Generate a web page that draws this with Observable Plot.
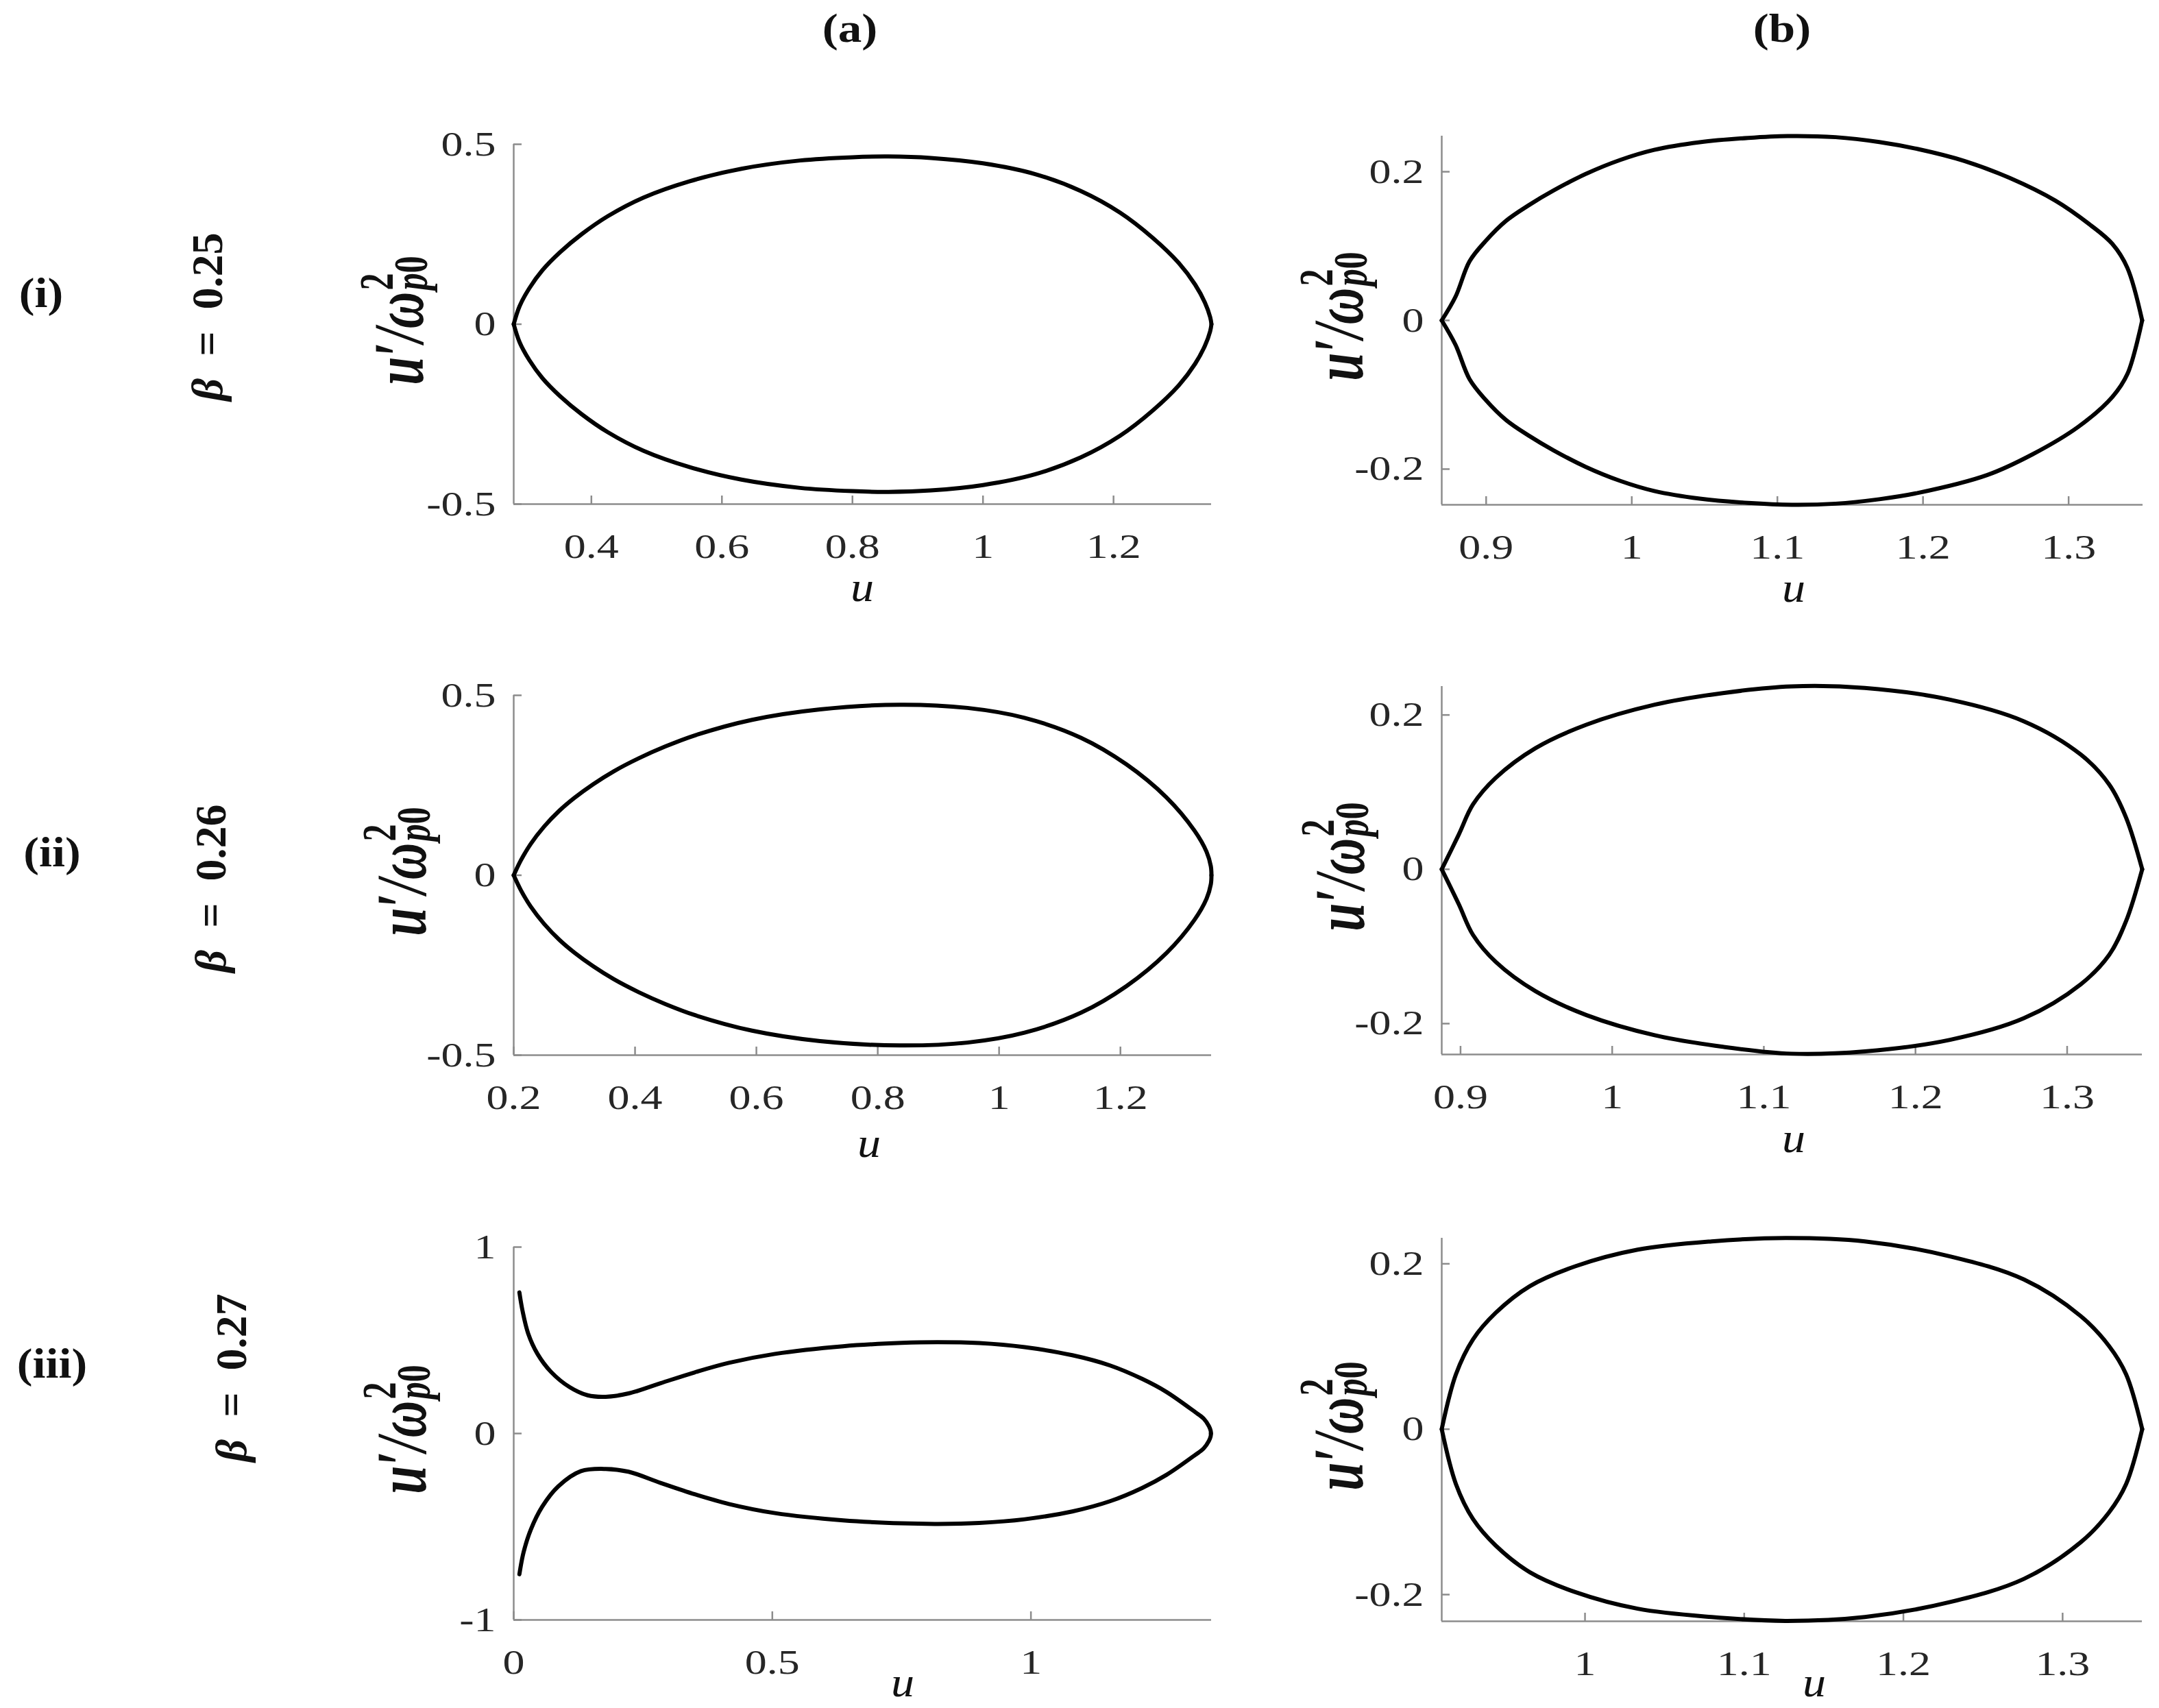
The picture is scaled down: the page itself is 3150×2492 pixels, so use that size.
<!DOCTYPE html>
<html>
<head>
<meta charset="utf-8">
<script src="https://cdn.jsdelivr.net/npm/d3@7"></script>
<script src="https://cdn.jsdelivr.net/npm/@observablehq/plot@0.6"></script>
<style>
  html, body { margin: 0; padding: 0; background: #fff; }
  #root { position: relative; width: 3150px; height: 2492px; background: #fff; overflow: hidden;
          font-family: 'Liberation Serif', 'Times New Roman', serif; color: #111; }
  .lab { position: absolute; white-space: nowrap; line-height: 0.6; }
  .hdr { font-weight: bold; font-size: 60px; }
  .row { font-weight: bold; font-size: 62px; }
  .beta { font-weight: bold; font-size: 64px; }
  .beta i { font-style: italic; }
  .xl { font-style: italic; font-size: 62px; }
  .yl { font-style: italic; font-weight: bold; font-size: 74px; line-height: 1; }
  .ss { display: inline-block; position: relative; width: 0.72em; height: 1em; vertical-align: baseline; }
  .ss .sup, .ss .sub { position: absolute; left: 0.04em; font-size: 0.68em; line-height: 1; }
  .ss .sup { top: 0; font-style: normal; }
  .ss .sub { top: 0.72em; }
  .ss .sub b { font-style: normal; }
</style>
</head>
<body>
<div id="root"></div>
<script>
// ---------------- DATA ----------------
const columnLabels = ["(a)", "(b)"];
const rowLabels = ["(i)", "(ii)", "(iii)"];
const betaValues = ["0.25", "0.26", "0.27"];

// Row (i), beta = 0.25, column (a)
const uA1Upper = [0.281, 0.290, 0.305, 0.325, 0.352, 0.385, 0.425, 0.48, 0.55, 0.63, 0.72, 0.80, 0.855, 0.92, 1.00, 1.08, 1.15, 1.21, 1.26, 1.30, 1.325, 1.34, 1.348, 1.35];
const vA1Upper = [0, 0.05, 0.10, 0.15, 0.20, 0.25, 0.30, 0.352, 0.397, 0.432, 0.455, 0.464, 0.466, 0.462, 0.447, 0.417, 0.37, 0.31, 0.24, 0.17, 0.11, 0.06, 0.02, 0];
const uA1Lower = [0.281, 0.290, 0.305, 0.325, 0.352, 0.385, 0.425, 0.48, 0.55, 0.63, 0.72, 0.80, 0.855, 0.92, 1.00, 1.08, 1.15, 1.21, 1.26, 1.30, 1.325, 1.34, 1.348, 1.35];
const vA1Lower = [0, -0.05, -0.10, -0.15, -0.20, -0.25, -0.30, -0.352, -0.397, -0.432, -0.455, -0.464, -0.466, -0.462, -0.447, -0.417, -0.37, -0.31, -0.24, -0.17, -0.11, -0.06, -0.02, 0];

// Row (i), beta = 0.25, column (b)
const uB1Upper = [0.8695, 0.879, 0.8886, 0.8996, 0.9137, 0.9293, 0.9465, 0.9684, 0.9919, 1.0154, 1.0467, 1.08, 1.107, 1.14, 1.17, 1.1966, 1.2284, 1.2597, 1.291, 1.3145, 1.330, 1.3403, 1.3505];
const vB1Upper = [0, 0.032, 0.0795, 0.1067, 0.134, 0.155, 0.175, 0.197, 0.2157, 0.2294, 0.2397, 0.2455, 0.248, 0.2465, 0.240, 0.2305, 0.2145, 0.1915, 0.161, 0.129, 0.103, 0.0709, 0];
const uB1Lower = [0.8695, 0.879, 0.8886, 0.8996, 0.9137, 0.9293, 0.9465, 0.9684, 0.9919, 1.0154, 1.0467, 1.08, 1.11, 1.14, 1.17, 1.1966, 1.244, 1.2753, 1.3067, 1.330, 1.3405, 1.3505];
const vB1Lower = [0, -0.033, -0.079, -0.1067, -0.134, -0.155, -0.175, -0.197, -0.2157, -0.2294, -0.2397, -0.2455, -0.248, -0.2465, -0.2405, -0.232, -0.208, -0.18, -0.143, -0.103, -0.0715, 0];

// Row (ii), beta = 0.26, column (a)
const uA2Upper = [0.200, 0.212, 0.228, 0.250, 0.275, 0.300, 0.331, 0.365, 0.406, 0.450, 0.499, 0.593, 0.705, 0.836, 0.948, 1.042, 1.135, 1.21, 1.276, 1.322, 1.342, 1.349, 1.35];
const vA2Upper = [0, 0.042, 0.087, 0.135, 0.179, 0.215, 0.253, 0.289, 0.325, 0.358, 0.389, 0.432, 0.461, 0.474, 0.465, 0.4375, 0.382, 0.308, 0.216, 0.124, 0.065, 0.025, 0];
const uA2Lower = [0.200, 0.212, 0.228, 0.250, 0.275, 0.300, 0.331, 0.365, 0.406, 0.450, 0.499, 0.593, 0.705, 0.836, 0.948, 1.042, 1.135, 1.21, 1.276, 1.322, 1.342, 1.349, 1.35];
const vA2Lower = [0, -0.042, -0.087, -0.135, -0.179, -0.215, -0.253, -0.289, -0.325, -0.358, -0.389, -0.432, -0.461, -0.473, -0.465, -0.4375, -0.382, -0.308, -0.216, -0.124, -0.065, -0.025, 0];

// Row (ii), beta = 0.26, column (b)
const uB2Upper = [0.8876, 0.8989, 0.9082, 0.9232, 0.9494, 0.9831, 1.028, 1.073, 1.118, 1.1666, 1.2228, 1.2715, 1.309, 1.3277, 1.3389, 1.3495];
const vB2Upper = [0, 0.0453, 0.084, 0.1185, 0.157, 0.1875, 0.2133, 0.2284, 0.237, 0.235, 0.2198, 0.1918, 0.1487, 0.11, 0.0668, 0];
const uB2Lower = [0.8876, 0.8989, 0.9082, 0.9232, 0.9494, 0.9831, 1.028, 1.073, 1.118, 1.1666, 1.2228, 1.2715, 1.309, 1.3277, 1.3389, 1.3495];
const vB2Lower = [0, -0.0455, -0.085, -0.12, -0.158, -0.189, -0.215, -0.23, -0.239, -0.236, -0.221, -0.193, -0.149, -0.111, -0.067, 0];

// Row (iii), beta = 0.27, column (a)
const uA3Upper = [0.011, 0.017, 0.028, 0.046, 0.072, 0.108, 0.143, 0.178, 0.222, 0.284, 0.350, 0.416, 0.505, 0.637, 0.75, 0.82, 0.90, 0.988, 1.08, 1.153, 1.215, 1.262, 1.317, 1.334, 1.344, 1.3475, 1.348];
const vA3Upper = [0.757, 0.659, 0.536, 0.427, 0.331, 0.249, 0.205, 0.197, 0.215, 0.27, 0.328, 0.379, 0.427, 0.468, 0.486, 0.49, 0.485, 0.463, 0.42, 0.365, 0.293, 0.223, 0.116, 0.08, 0.04, 0.015, 0];
const uA3Lower = [0.011, 0.019, 0.033, 0.055, 0.086, 0.130, 0.178, 0.222, 0.284, 0.350, 0.416, 0.505, 0.637, 0.75, 0.82, 0.90, 0.988, 1.08, 1.153, 1.215, 1.262, 1.317, 1.334, 1.344, 1.3475, 1.348];
const vA3Lower = [-0.755, -0.638, -0.516, -0.393, -0.284, -0.202, -0.19, -0.205, -0.265, -0.326, -0.378, -0.427, -0.466, -0.482, -0.485, -0.48, -0.46, -0.418, -0.363, -0.292, -0.222, -0.116, -0.08, -0.04, -0.015, 0];

// Row (iii), beta = 0.27, column (b)
const uB3Upper = [0.910, 0.9189, 0.9296, 0.9439, 0.9653, 0.9939, 1.0331, 1.0795, 1.1259, 1.1758, 1.2293, 1.2757, 1.3114, 1.3292, 1.3399, 1.35];
const vB3Upper = [0, 0.0663, 0.1085, 0.1407, 0.1729, 0.197, 0.2171, 0.2271, 0.2312, 0.2271, 0.209, 0.181, 0.1367, 0.1005, 0.0663, 0];
const uB3Lower = [0.910, 0.9189, 0.9296, 0.9439, 0.9653, 0.9939, 1.0331, 1.0795, 1.1259, 1.1758, 1.2293, 1.2757, 1.3114, 1.3292, 1.3399, 1.35];
const vB3Lower = [0, -0.0663, -0.1085, -0.1407, -0.1729, -0.197, -0.2171, -0.2271, -0.2318, -0.2271, -0.209, -0.181, -0.1367, -0.1005, -0.0663, 0];

// Tick values
const xTicksA1 = [0.4, 0.6, 0.8, 1, 1.2];
const xTicksA2 = [0.2, 0.4, 0.6, 0.8, 1, 1.2];
const xTicksA3 = [0, 0.5, 1];
const xTicksB1 = [0.9, 1, 1.1, 1.2, 1.3];
const xTicksB2 = [0.9, 1, 1.1, 1.2, 1.3];
const xTicksB3 = [1, 1.1, 1.2, 1.3];
const yTicksA12 = [-0.5, 0, 0.5];
const yTicksA3 = [-1, 0, 1];
const yTicksB = [-0.2, 0, 0.2];

// Axis domains
const xDomA1 = [0.281, 1.35], yDomA1 = [-0.5, 0.5];
const xDomB1 = [0.8695, 1.351], yDomB1 = [-0.248, 0.248];
const xDomA2 = [0.2, 1.35], yDomA2 = [-0.5, 0.5];
const xDomB2 = [0.8876, 1.3495], yDomB2 = [-0.24, 0.237];
const xDomA3 = [0, 1.349], yDomA3 = [-1, 1];
const xDomB3 = [0.910, 1.35], yDomB3 = [-0.2323, 0.231];

// ---------------- BUILD ----------------
const root = document.getElementById("root");
const toPts = (us, vs) => us.map((u, i) => ({u, v: vs[i]}));
const AX = "#8c8c8c";
const ML = 200, MR = 40, MT = 40, MB = 130;

const panels = [
  {frame: {x: 749, y: 210, w: 1018, h: 525}, xDom: xDomA1, yDom: yDomA1, xTicks: xTicksA1, yTicks: yTicksA12, up: toPts(uA1Upper, vA1Upper), lo: toPts(uA1Lower, vA1Lower), ulab: [1258, 864], ylabX: 574},
  {frame: {x: 2103, y: 198, w: 1023, h: 538}, xDom: xDomB1, yDom: yDomB1, xTicks: xTicksB1, yTicks: yTicksB, up: toPts(uB1Upper, vB1Upper), lo: toPts(uB1Lower, vB1Lower), ulab: [2617, 865], ylabX: 1945},
  {frame: {x: 749, y: 1014, w: 1018, h: 525}, xDom: xDomA2, yDom: yDomA2, xTicks: xTicksA2, yTicks: yTicksA12, up: toPts(uA2Upper, vA2Upper), lo: toPts(uA2Lower, vA2Lower), ulab: [1268, 1675], ylabX: 578},
  {frame: {x: 2103, y: 1001, w: 1022, h: 537}, xDom: xDomB2, yDom: yDomB2, xTicks: xTicksB2, yTicks: yTicksB, up: toPts(uB2Upper, vB2Upper), lo: toPts(uB2Lower, vB2Lower), ulab: [2617, 1668], ylabX: 1947},
  {frame: {x: 749, y: 1819, w: 1018, h: 544}, xDom: xDomA3, yDom: yDomA3, xTicks: xTicksA3, yTicks: yTicksA3, up: toPts(uA3Upper, vA3Upper), lo: toPts(uA3Lower, vA3Lower), ulab: [1317, 2462], ylabX: 578},
  {frame: {x: 2103, y: 1806, w: 1022, h: 559}, xDom: xDomB3, yDom: yDomB3, xTicks: xTicksB3, yTicks: yTicksB, up: toPts(uB3Upper, vB3Upper), lo: toPts(uB3Lower, vB3Lower), ulab: [2647, 2462], ylabX: 1945}
];

const fmt = d => String(d);

function addLabel(html, cls, cx, cy, transformExtra) {
  const d = document.createElement("div");
  d.className = cls;
  d.innerHTML = html;
  d.style.left = cx + "px";
  d.style.top = cy + "px";
  d.style.transform = "translate(-50%, -50%)" + (transformExtra ? " " + transformExtra : "");
  root.appendChild(d);
  return d;
}

function stretchTickLabels(svg, k) {
  svg.querySelectorAll('g[aria-label$="tick label"] text').forEach(t => {
    const tr = t.getAttribute("transform");
    if (tr) {
      t.setAttribute("transform", tr + ` scale(${k},1)`);
    } else {
      const x = +(t.getAttribute("x") || 0);
      t.removeAttribute("x");
      t.setAttribute("transform", `translate(${x},0) scale(${k},1)`);
    }
  });
}

for (const p of panels) {
  const f = p.frame;
  const chart = Plot.plot({
    width: f.w + ML + MR,
    height: f.h + MT + MB,
    marginLeft: ML, marginRight: MR, marginTop: MT, marginBottom: MB,
    style: {fontFamily: "'Liberation Serif', 'Times New Roman', serif", fontSize: "50px", background: "transparent", color: "#262626", overflow: "visible"},
    x: {domain: p.xDom},
    y: {domain: p.yDom},
    marks: [
      Plot.ruleX([p.xDom[0]], {stroke: AX, strokeWidth: 2.5}),
      Plot.ruleY([p.yDom[0]], {stroke: AX, strokeWidth: 2.5}),
      Plot.tickX(p.xTicks, {x: d => d, stroke: AX, strokeWidth: 2.5, insetTop: f.h - 12}),
      Plot.tickY(p.yTicks, {y: d => d, stroke: AX, strokeWidth: 2.5, insetRight: f.w - 12}),
      Plot.axisX({ticks: p.xTicks, tickSize: 0, tickPadding: 43, tickFormat: fmt, label: null, fontSize: 50}),
      Plot.axisY({ticks: p.yTicks, tickSize: 0, tickPadding: 26, tickFormat: fmt, label: null, fontSize: 50}),
      Plot.line(p.up, {x: "u", y: "v", curve: "catmull-rom", stroke: "#000", strokeWidth: 6, strokeLinejoin: "round", strokeLinecap: "round"}),
      Plot.line(p.lo, {x: "u", y: "v", curve: "catmull-rom", stroke: "#000", strokeWidth: 6, strokeLinejoin: "round", strokeLinecap: "round"})
    ]
  });
  stretchTickLabels(chart, 1.28);
  chart.style.position = "absolute";
  chart.style.left = (f.x - ML) + "px";
  chart.style.top = (f.y - MT) + "px";
  chart.style.maxWidth = "none";
  root.appendChild(chart);

  // x-axis label "u" (glyph center sits ~7px below box center)
  addLabel('u', "lab xl", p.ulab[0], p.ulab[1] - 7, "scaleX(1.1)");
  // y-axis label u'/ω²_p0
  addLabel('u′/ω<span class="ss"><span class="sup">2</span><span class="sub">p<b>0</b></span></span>',
           "lab yl", p.ylabX, f.y + f.h / 2 - 6, "rotate(-90deg) scaleY(1.4)");
}

// column headers
addLabel(columnLabels[0], "lab hdr", 1240, 41, "scaleX(1.15)");
addLabel(columnLabels[1], "lab hdr", 2600, 41, "scaleX(1.15)");
// row labels
const rowPos = [[60, 428], [76, 1244], [76, 1990]];
rowLabels.forEach((t, i) => addLabel(t, "lab row", rowPos[i][0], rowPos[i][1], "scaleX(1.1)"));
// beta labels (rotated)
const betaPos = [[303, 462], [308, 1296], [338, 2010]];
betaValues.forEach((b, i) => addLabel(`<i>β</i>\u2002=\u2002${b}`, "lab beta", betaPos[i][0], betaPos[i][1], "rotate(-90deg)"));
</script>
</body>
</html>
